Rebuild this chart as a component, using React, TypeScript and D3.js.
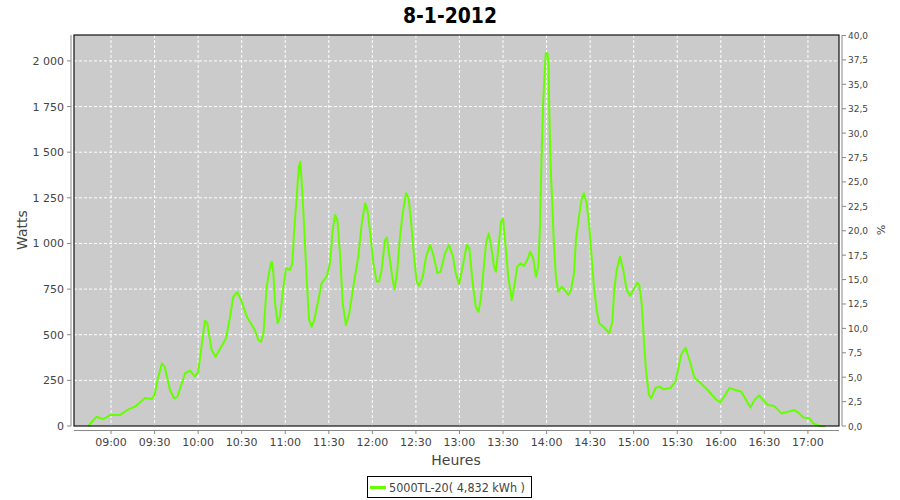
import React from "react";
import * as d3 from "d3";

// time of day in minutes since midnight
const times = [
  524.4, 530, 534.7, 539.3, 546, 552, 556.5, 563.4, 568, 570, 572, 575, 577, 580.6, 583.4, 585.7,
  591, 594.4, 597.8, 600, 602, 604.7, 606.3, 609.3, 612, 616, 619.2, 622, 624.2, 627, 630, 633.5,
  637, 639, 641.5, 643.3, 645, 647.2, 650, 650.8, 651.8, 653, 654.8, 656.4, 658.2, 660.5, 663.3,
  664.9, 666, 667.9, 669.3, 670.4, 671.7, 673.1, 674.8, 676.4, 678.2, 680, 682.8, 685, 688.5,
  690.8, 692.7, 694.3, 695.9, 697.7, 699.6, 701.8, 704.1, 706.9, 710.3, 712.7, 715, 716.6, 718.8,
  720.7, 723, 724.6, 726.4, 728.7, 730, 732.1, 734, 735.4, 737.2, 739, 740.9, 743.2, 745, 747,
  748.7, 750.5, 752.3, 754.7, 757, 759.7, 762, 764.8, 767, 770, 772.8, 775.5, 777.4, 779.7,
  782.2, 785, 786.8, 789.1, 791.2, 793, 794.6, 796.4, 798.3, 800.1, 801.9, 803.8, 805.1, 806.7,
  808.6, 810, 811.8, 813.6, 816, 817.7, 819.8, 822.1, 824.4, 826.7, 828.7, 830.8, 832.7, 834.3,
  835.5, 836.6, 837.7, 839.4, 840.6, 841.3, 841.8, 842.7, 844.1, 845, 846.4, 848, 850.4, 852.7,
  855, 856.8, 858.9, 860.2, 862.3, 864.2, 865.7, 867.6, 869.4, 871, 872.6, 874.5, 876.3, 879.5,
  883.2, 885.3, 886.6, 888.3, 890.6, 892.8, 895.2, 897.5, 899.7, 902.5, 903.8, 905.5, 907.3,
  908.5, 910.5, 912, 915, 917.8, 920.6, 925.3, 928.8, 932.7, 935.7, 938.7, 941.9, 946.1, 951.9,
  956.6, 959.6, 962.4, 965.9, 970.5, 974, 977.4, 980.4, 983.2, 986.3, 989, 992.5, 996.7, 1001.8,
  1006.4, 1010.4, 1013.4, 1016.9, 1021, 1023.8, 1028.4, 1032,
];

const watts = [
  0, 51, 37, 60, 60, 91, 106, 153, 148, 170, 252, 343, 325, 197, 152, 160,
  289, 303, 270, 297, 416, 577, 563, 416, 380, 435, 481, 599, 708, 733, 681, 599,
  553, 526, 471, 462, 508, 763, 891, 900, 837, 672, 563, 599, 727, 864, 855,
  891, 1056, 1256, 1421, 1448, 1293, 1074, 800, 581, 544, 581, 690, 782, 818,
  891, 1074, 1156, 1129, 946, 672, 553, 618, 763, 928, 1110, 1220, 1184, 1037,
  891, 791, 791, 855, 1019, 1032, 910, 800, 749, 855, 1037, 1165, 1275, 1247, 1092,
  928, 791, 767, 818, 928, 992, 937, 837, 846, 946, 992, 930, 837, 778,
  873, 992, 974, 782, 654, 626, 690, 837, 1001, 1056, 982, 873, 846, 964,
  1119, 1138, 982, 818, 690, 763, 873, 891, 877, 910, 955, 919, 818, 873,
  1101, 1494, 1786, 2042, 2042, 1987, 1750, 1439, 1184, 1000, 818, 736, 763, 745,
  718, 745, 837, 1019, 1147, 1247, 1275, 1220, 1092, 928, 763, 636, 563, 541,
  508, 571, 745, 855, 928, 855, 745, 714, 745, 785, 773, 672, 435,
  300, 170, 152, 208, 216, 201, 208, 244, 392, 429, 355, 263, 235, 189,
  146, 130, 161, 208, 196, 189, 143, 102, 143, 167, 143, 115, 110, 69,
  78, 88, 73, 47, 42, 14, 0, 0,
];

const timeTickLabels = [
  "09:00", "09:30", "10:00", "10:30", "11:00", "11:30", "12:00", "12:30", "13:00",
  "13:30", "14:00", "14:30", "15:00", "15:30", "16:00", "16:30", "17:00",
];
const wattTicks = [0, 250, 500, 750, 1000, 1250, 1500, 1750, 2000];
const pctTicks = [0, 2.5, 5, 7.5, 10, 12.5, 15, 17.5, 20, 22.5, 25, 27.5, 30, 32.5, 35, 37.5, 40];

const chartTitle = "8-1-2012";
const yTitle = "Watts";
const y2Title = "%";
const xTitle = "Heures";
const seriesLabel = "5000TL-20( 4,832 kWh )";

const FONT = "'DejaVu Sans', Verdana, sans-serif";
const LINE_COLOR = "#66ff00";

const locale = d3.formatLocale({ decimal: ",", thousands: " ", grouping: [3], currency: ["", ""] });
const fmtW = locale.format(",d");
const fmtP = locale.format(".1f");

export default function App() {
  const left = 74, right = 839, top = 35, bottom = 426;
  const x = d3.scaleLinear().domain([514.5, 1041.4]).range([left, right]);
  const y = d3.scaleLinear().domain([0, 2142]).range([bottom, top]);
  const y2 = d3.scaleLinear().domain([0, 40]).range([bottom, 35.5]);
  const toMin = (s: string) => {
    const [h, m] = s.split(":").map(Number);
    return h * 60 + m;
  };
  const pts = times.map((t, i) => [t, watts[i]] as [number, number]);
  const path = d3.line<[number, number]>().x((d) => x(d[0])).y((d) => y(d[1]))(pts) || "";

  return (
    <svg width={900} height={500} style={{ position: "absolute", left: 0, top: 0, background: "#fff" }}>
      <text x={450} y={23} textAnchor="middle" fontFamily={FONT} fontWeight="bold" fontSize={22}
        textLength={94} lengthAdjust="spacingAndGlyphs" fill="#000">{chartTitle}</text>

      <rect x={left} y={top} width={right - left} height={bottom - top} fill="#cbcbcb" />
      {timeTickLabels.map((s) => (
        <line key={"vg" + s} x1={x(toMin(s))} x2={x(toMin(s))} y1={top} y2={bottom}
          stroke="#fff" strokeWidth={1} strokeDasharray="3,2" />
      ))}
      {wattTicks.filter((v) => v > 0).map((v) => (
        <line key={"hg" + v} x1={left} x2={right} y1={y(v)} y2={y(v)}
          stroke="#fff" strokeWidth={1} strokeDasharray="3,2" />
      ))}
      <path d={path} fill="none" stroke={LINE_COLOR} strokeWidth={2} strokeLinejoin="round" />
      <rect x={left} y={top} width={right - left} height={bottom - top} fill="none" stroke="#111" strokeWidth={1.2} />

      {/* left axis */}
      <line x1={71} x2={71} y1={top} y2={bottom} stroke="#888" />
      {wattTicks.map((v) => (
        <g key={"wt" + v}>
          <line x1={67} x2={71} y1={y(v)} y2={y(v)} stroke="#888" />
          <text x={64} y={y(v) + 4} textAnchor="end" fontFamily={FONT} fontSize={11} fill="#444">{fmtW(v)}</text>
        </g>
      ))}
      <text transform={`translate(27,230) rotate(-90)`} textAnchor="middle" fontFamily={FONT} fontSize={14} fill="#444">{yTitle}</text>

      {/* right axis */}
      <line x1={842} x2={842} y1={top} y2={bottom} stroke="#888" />
      {pctTicks.map((v) => (
        <g key={"pt" + v}>
          <line x1={842} x2={846} y1={y2(v)} y2={y2(v)} stroke="#888" />
          <text x={848} y={y2(v) + 3.5} fontFamily={FONT} fontSize={9} fill="#444">{fmtP(v)}</text>
        </g>
      ))}
      <text transform={`translate(877,230) rotate(90)`} textAnchor="middle" fontFamily={FONT} fontSize={11} fill="#444">{y2Title}</text>

      {/* x axis */}
      <line x1={left} x2={right} y1={430.5} y2={430.5} stroke="#888" />
      {timeTickLabels.map((s) => (
        <g key={"xt" + s}>
          <line x1={x(toMin(s))} x2={x(toMin(s))} y1={430.5} y2={434} stroke="#888" />
          <text x={x(toMin(s))} y={446} textAnchor="middle" fontFamily={FONT} fontSize={11} fill="#444">{s}</text>
        </g>
      ))}
      <text x={456} y={465} textAnchor="middle" fontFamily={FONT} fontSize={14} fill="#444">{xTitle}</text>

      {/* legend */}
      <rect x={367.5} y={476.5} width={164} height={21} fill="#fff" stroke="#000" />
      <line x1={370} x2={386} y1={487.5} y2={487.5} stroke={LINE_COLOR} strokeWidth={3} />
      <text x={389} y={492} fontFamily={FONT} fontSize={11.5} textLength={136} lengthAdjust="spacingAndGlyphs"
        fill="#444">{seriesLabel}</text>
    </svg>
  );
}
